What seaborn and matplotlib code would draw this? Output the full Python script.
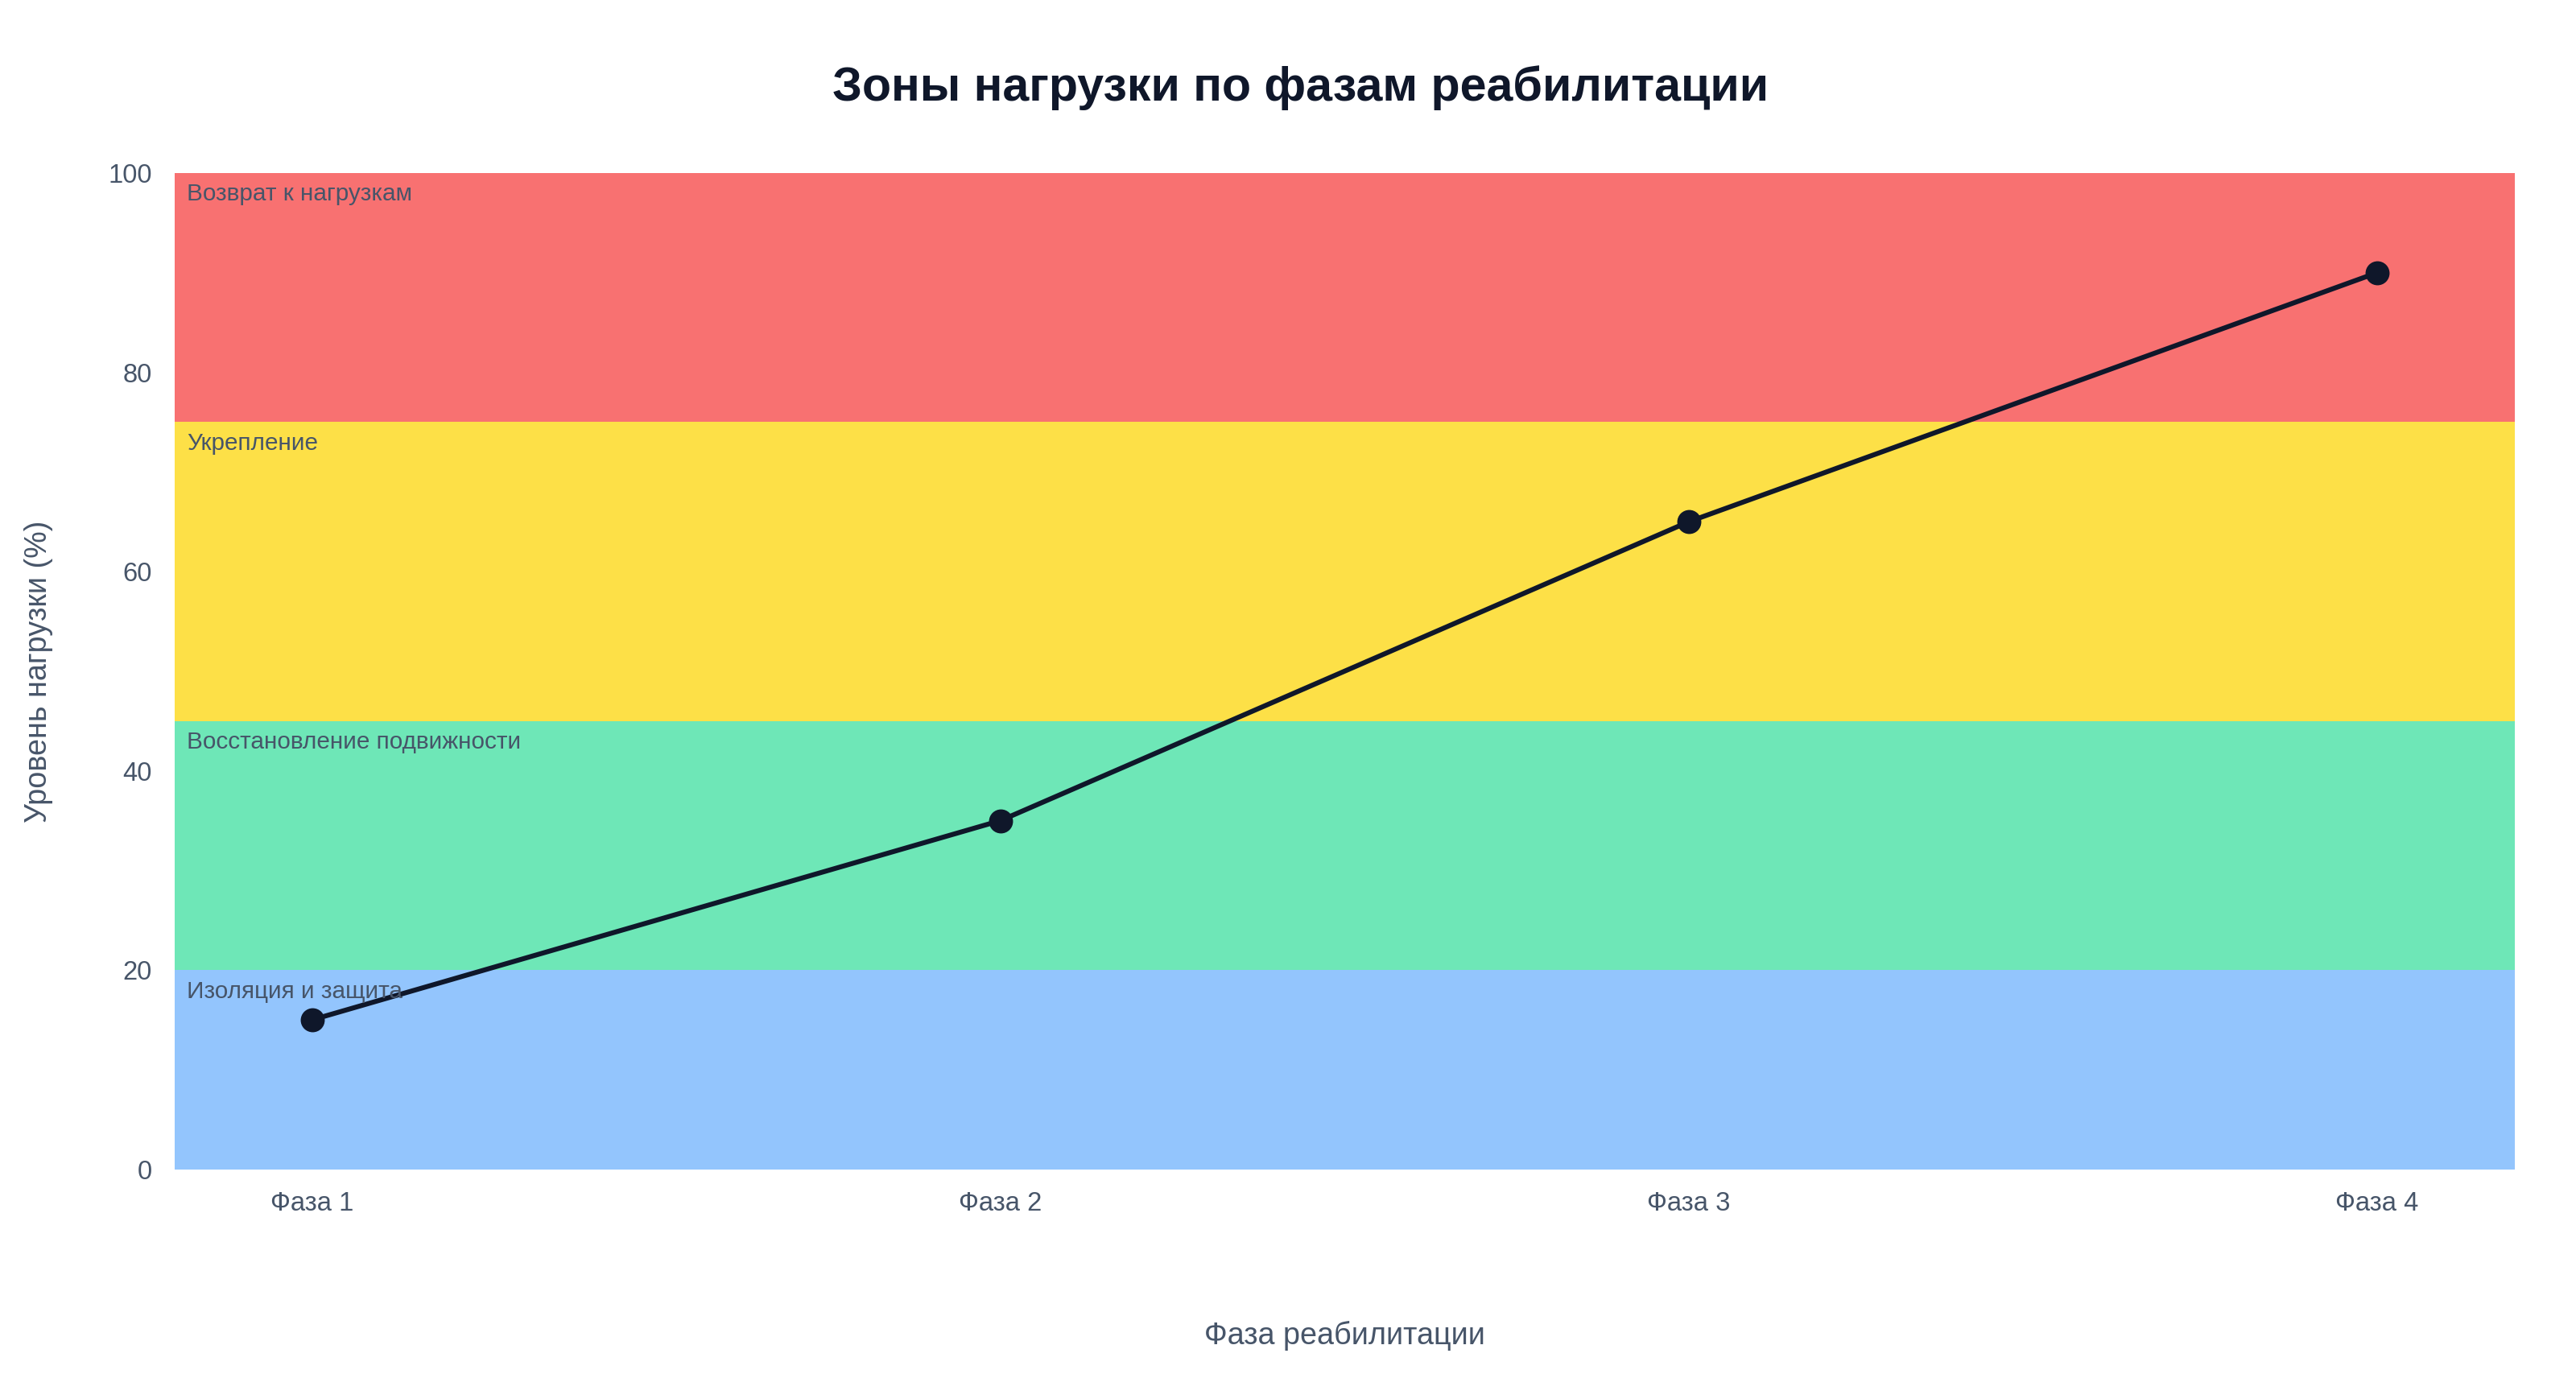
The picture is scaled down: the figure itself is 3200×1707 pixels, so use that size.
import numpy as np
import pandas as pd
import matplotlib
matplotlib.use("Agg")
import matplotlib.pyplot as plt
import seaborn as sns

# data
phases = ["Фаза 1", "Фаза 2", "Фаза 3", "Фаза 4"]
load_values = [15, 35, 65, 90]

zone_names = ["Изоляция и защита", "Восстановление подвижности", "Укрепление", "Возврат к нагрузкам"]
zone_low = [0, 20, 45, 75]
zone_high = [20, 45, 75, 100]
zone_colors = ["#93C5FD", "#6EE7B7", "#FDE047", "#F87171"]

sns.set_theme(style="white")
plt.rcParams["font.family"] = ["Liberation Sans", "DejaVu Sans"]

df = pd.DataFrame({"phase": phases, "load": load_values})
df["x"] = np.arange(len(phases))

fig = plt.figure(figsize=(16, 8.535), dpi=200)
ax = fig.add_axes([0.0677, 0.149, 0.9085, 0.725])

# zones
for name, lo, hi, c in zip(zone_names, zone_low, zone_high, zone_colors):
    ax.axhspan(lo, hi, color=c, lw=0, zorder=0)
    ax.text(-0.182, hi - 1.0, name, ha="left", va="top", fontsize=10.7,
            color="#475569", zorder=3)

sns.lineplot(data=df, x="x", y="load", ax=ax, color="#0F172A", lw=2.2,
             marker="o", markersize=10, markeredgecolor="#0F172A", zorder=2)

ax.set_xlim(-0.2, 3.2)
ax.set_ylim(0, 100)
ax.set_xticks(df["x"])
ax.set_xticklabels(phases)
ax.set_yticks([0, 20, 40, 60, 80, 100])
ax.tick_params(axis="both", length=0, labelsize=11.8, colors="#475569")
ax.tick_params(axis="x", pad=10)
ax.tick_params(axis="y", pad=10)
for s in ax.spines.values():
    s.set_visible(False)
ax.grid(False)

ax.set_xlabel("")
ax.set_ylabel("")
fig.text(0.522, 0.028, "Фаза реабилитации", ha="center", va="center",
         fontsize=13.6, color="#475569")
fig.text(0.015, 0.511, "Уровень нагрузки (%)", ha="center", va="center",
         rotation=90, fontsize=13.6, color="#475569")
fig.text(0.505, 0.936, "Зоны нагрузки по фазам реабилитации", ha="center",
         va="center", fontsize=21.3, fontweight="bold", color="#0F172A")

fig.savefig("out.png", dpi=200, facecolor="white")
